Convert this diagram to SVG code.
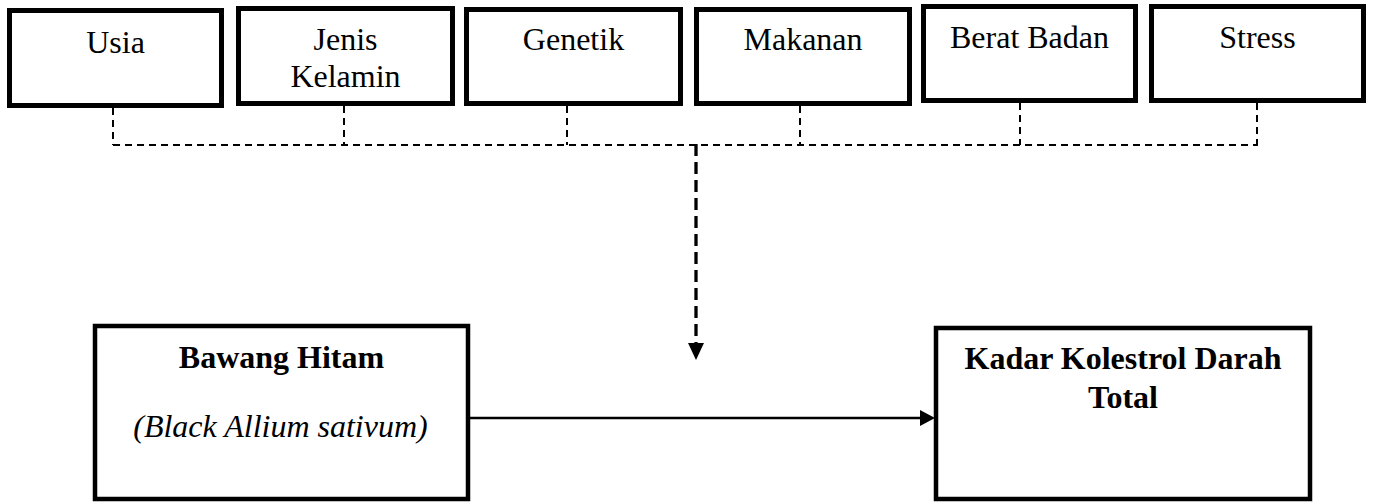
<svg xmlns="http://www.w3.org/2000/svg" width="1373" height="502" viewBox="0 0 1373 502">
  <style>
    .box { fill: #fff; stroke: #000; stroke-width: 5; }
    .big { fill: #fff; stroke: #000; stroke-width: 4.5; }
    .lbl { font-family: "Liberation Serif", "Times New Roman", serif; font-size: 32px; fill: #000; text-anchor: middle; }
    .bold { font-weight: bold; }
    .ital { font-style: italic; }
    .dash { fill: none; stroke: #000; stroke-width: 2; stroke-dasharray: 7 5; }
    .dashmain { fill: none; stroke: #000; stroke-width: 3.3; stroke-dasharray: 12 6; }
    .solid { fill: none; stroke: #000; stroke-width: 2.5; }
    .head { fill: #000; }
  </style>

  <!-- factor boxes -->
  <g id="usia">
    <rect class="box" x="9.5" y="10.5" width="212" height="95"/>
    <text class="lbl" x="115.5" y="53">Usia</text>
  </g>
  <g id="jenis-kelamin">
    <rect class="box" x="238.5" y="8.5" width="214" height="95"/>
    <text class="lbl" x="345.5" y="50">Jenis</text>
    <text class="lbl" x="345.5" y="87">Kelamin</text>
  </g>
  <g id="genetik">
    <rect class="box" x="466.5" y="9.5" width="214" height="94"/>
    <text class="lbl" x="573.5" y="50">Genetik</text>
  </g>
  <g id="makanan">
    <rect class="box" x="696.5" y="9.5" width="213" height="94"/>
    <text class="lbl" x="803" y="50">Makanan</text>
  </g>
  <g id="berat-badan">
    <rect class="box" x="923.5" y="6.5" width="212" height="94"/>
    <text class="lbl" x="1029.5" y="48">Berat Badan</text>
  </g>
  <g id="stress">
    <rect class="box" x="1151.5" y="6.5" width="212" height="94"/>
    <text class="lbl" x="1257.5" y="48">Stress</text>
  </g>

  <!-- main boxes -->
  <g id="bawang-hitam">
    <rect class="big" x="95" y="326" width="373" height="173"/>
    <text class="lbl bold" x="281.5" y="368">Bawang Hitam</text>
    <text class="lbl ital" x="280.5" y="437">(Black Allium sativum)</text>
  </g>
  <g id="kadar-kolestrol">
    <rect class="big" x="936" y="328" width="374" height="171"/>
    <text class="lbl bold" x="1123" y="369">Kadar Kolestrol Darah</text>
    <text class="lbl bold" x="1123" y="408">Total</text>
  </g>

  <!-- connectors -->
  <g id="connectors">
    <path class="dash" d="M113,108 V145 M344,106 V145 M567,106 V145 M800,106 V145 M1020,103 V145 M1257,103 V145"/>
    <path class="dash" d="M113,145 H1258"/>
    <path class="dashmain" d="M696,144 V343"/>
    <path class="head" d="M688,343 L704,343 L696,360 Z"/>
    <path class="solid" d="M470,418 H921"/>
    <path class="head" d="M920,410 L935,418 L920,426 Z"/>
  </g>
</svg>
